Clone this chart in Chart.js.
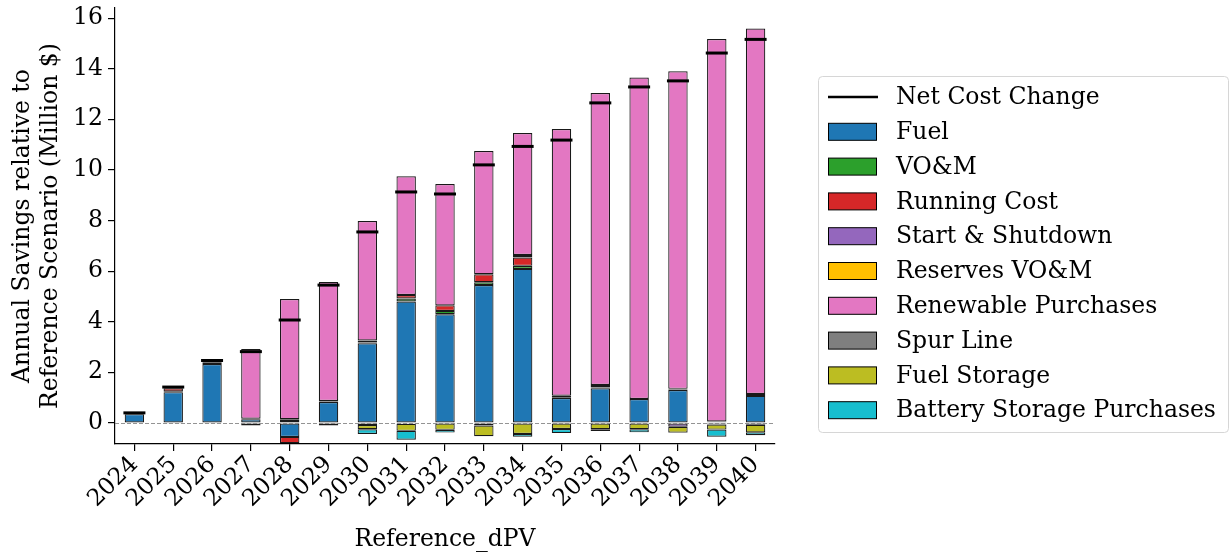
<!DOCTYPE html>
<html>
<head>
<meta charset="utf-8">
<script src="https://cdn.jsdelivr.net/npm/chart.js@4/dist/chart.umd.min.js"></script>
<style>
  html, body { margin: 0; padding: 0; background: #fff; }
</style>
</head>
<body>
<canvas id="chart" width="1231" height="554"></canvas>
<script>
// data (Million $)
const years = ['2024', '2025', '2026', '2027', '2028', '2029', '2030', '2031', '2032',
               '2033', '2034', '2035', '2036', '2037', '2038', '2039', '2040'];
const netCost     = [0.40, 1.42, 2.47, 2.82, 4.07, 5.45, 7.55, 9.13, 9.05, 10.20, 10.93, 11.18, 12.65, 13.28, 13.52, 14.62, 15.16];
const fuel        = [0.35, 1.22, 2.33, 0.15, -0.55, 0.83, 3.15, 4.80, 4.30, 5.45, 6.09, 0.99, 1.37, 0.95, 1.30, 0.03, 1.07];
const vom         = [0.03, 0.03, 0.07, 0.02, 0.08, 0.02, 0.03, 0.12, 0.13, 0.11, 0.12, 0.03, 0.03, 0.00, 0.02, 0.00, 0.08];
const running     = [0.02, 0.12, 0.06, 0.00, -0.25, 0.00, 0.08, 0.14, 0.22, 0.32, 0.33, 0.06, 0.10, 0.00, 0.03, 0.03, -0.07];
const startStop   = [0.00, -0.03, 0.00, 0.00, 0.07, 0.02, -0.08, -0.03, -0.02, -0.10, 0.10, 0.00, 0.00, 0.00, -0.15, -0.06, 0.00];
const reserves    = [0, 0, 0, 0, 0, 0, 0, 0, 0, 0, 0, 0, 0, 0, 0, 0, 0];
const renewable   = [0.00, 0.00, 0.00, 2.75, 4.75, 4.70, 4.72, 4.69, 4.79, 4.87, 4.82, 10.54, 11.54, 12.70, 12.55, 15.11, 14.44];
const spurLine    = [0.00, 0.06, 0, 0, 0, 0, 0, 0, 0, 0, 0, 0, 0, 0, 0, 0, 0];
const fuelStorage = [0.00, 0.00, -0.03, -0.10, 0.00, -0.10, -0.17, -0.28, -0.25, -0.42, -0.43, -0.24, -0.25, -0.25, -0.23, -0.20, -0.30];
const battery     = [0.00, 0.00, 0.00, 0.00, 0.00, 0.00, -0.18, -0.35, -0.11, 0.00, -0.11, -0.16, -0.07, -0.12, -0.02, -0.28, -0.11];
const yTicks = [0, 2, 4, 6, 8, 10, 12, 14, 16];

const seriesNames = ['Fuel', 'VO&M', 'Running Cost', 'Start & Shutdown', 'Reserves VO&M',
                     'Renewable Purchases', 'Spur Line', 'Fuel Storage', 'Battery Storage Purchases'];
const seriesData = [fuel, vom, running, startStop, reserves, renewable, spurLine, fuelStorage, battery];
const seriesColors = ['#1f77b4', '#2ca02c', '#d62728', '#9467bd', '#ffbf00',
                      '#e377c2', '#7f7f7f', '#bcbd22', '#17becf'];

Chart.defaults.font.family = '"DejaVu Serif", serif';
Chart.defaults.font.size = 23.5;
Chart.defaults.color = '#000';

const datasets = seriesNames.map((name, i) => ({
  type: 'bar',
  label: name,
  data: seriesData[i],
  backgroundColor: seriesColors[i],
  borderColor: 'rgba(0,0,0,0.9)',
  borderWidth: 1.2,
  borderSkipped: false,
  barPercentage: 0.5,
  categoryPercentage: 1.0,
  order: 1
}));
datasets.unshift({
  type: 'line',
  label: 'Net Cost Change',
  data: netCost,
  showLine: false,
  pointStyle: 'line',
  pointRadius: 11,
  pointHoverRadius: 11,
  borderWidth: 3,
  borderColor: '#000',
  backgroundColor: '#000',
  order: 0
});

// dashed line at zero
const zeroLine = {
  id: 'zeroLine',
  afterDatasetsDraw(chart) {
    const ctx = chart.ctx;
    const y = Math.round(chart.scales.y.getPixelForValue(0)) + 0.5;
    ctx.save();
    ctx.strokeStyle = '#888';
    ctx.lineWidth = 0.9;
    ctx.setLineDash([4, 2]);
    ctx.beginPath();
    ctx.moveTo(chart.chartArea.left, y);
    ctx.lineTo(chart.chartArea.right, y);
    ctx.stroke();
    ctx.restore();
  }
};

// legend box on the right, like the matplotlib one
const legendBox = {
  id: 'legendBox',
  afterDraw(chart) {
    const ctx = chart.ctx;
    ctx.save();
    ctx.beginPath();
    ctx.roundRect(818.5, 76.5, 410, 356, 4);
    ctx.fillStyle = 'rgba(255,255,255,0.8)';
    ctx.fill();
    ctx.strokeStyle = '#d6d6d6';
    ctx.lineWidth = 1;
    ctx.stroke();
    ctx.font = '23.5px "DejaVu Serif"';
    ctx.textBaseline = 'middle';
    chart.data.datasets.forEach((ds, i) => {
      const y = 97 + i * 34.8;
      if (ds.type === 'line') {
        ctx.strokeStyle = '#000';
        ctx.lineWidth = 2.5;
        ctx.beginPath();
        ctx.moveTo(828, y);
        ctx.lineTo(878, y);
        ctx.stroke();
      } else {
        ctx.fillStyle = ds.backgroundColor;
        ctx.fillRect(828.5, y - 8.5, 48, 17);
        ctx.strokeStyle = '#000';
        ctx.lineWidth = 1;
        ctx.strokeRect(828.5, y - 8.5, 48, 17);
      }
      ctx.fillStyle = '#000';
      ctx.fillText(ds.label, 896, y + 1);
    });
    ctx.restore();
  }
};

new Chart(document.getElementById('chart'), {
  type: 'bar',
  data: { labels: years, datasets: datasets },
  plugins: [zeroLine, legendBox],
  options: {
    responsive: false,
    animation: false,
    devicePixelRatio: 1,
    layout: { autoPadding: false, padding: { top: 8, right: 456, bottom: 0, left: 0 } },
    plugins: { legend: { display: false }, tooltip: { enabled: false } },
    scales: {
      x: {
        stacked: true,
        offset: true,
        grid: { display: true, drawOnChartArea: false, drawTicks: true, offset: false, tickLength: 7, color: '#000', lineWidth: 1.2 },
        border: { display: true, color: '#000', width: 1.2 },
        ticks: { minRotation: 45, maxRotation: 45, autoSkip: false, padding: 0 },
        title: { display: true, text: 'Reference_dPV', padding: { top: 0, bottom: 0 } },
        afterFit(s) { s.height = 110; }
      },
      y: {
        stacked: true,
        min: -0.83,
        max: 16.4,
        afterBuildTicks(s) { s.ticks = yTicks.map(v => ({ value: v })); },
        grid: { display: true, drawOnChartArea: false, drawTicks: true, tickLength: 7, color: '#000', lineWidth: 1.2 },
        border: { display: true, color: '#000', width: 1.2 },
        // tiny line height so the labels do not push the plot area down
        ticks: { padding: 5, font: { lineHeight: 0.1 } },
        title: {
          display: true,
          text: ['Annual Savings relative to', 'Reference Scenario (Million $)'],
          padding: { top: 9, bottom: 0 }
        },
        afterFit(s) { s.width = 115; }
      }
    }
  }
});
</script>
</body>
</html>
